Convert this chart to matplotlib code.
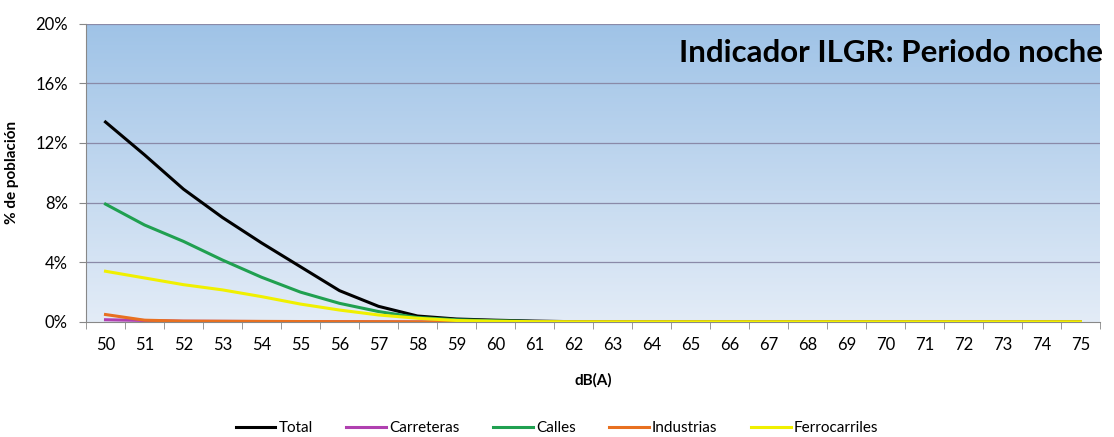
import numpy as np
import matplotlib.pyplot as plt
from matplotlib.colors import LinearSegmentedColormap

plt.rcParams['font.family'] = ['Lato', 'DejaVu Sans']

db = list(range(50, 76))
total = [13.4, 11.2, 8.9, 7.0, 5.3, 3.7, 2.1, 1.05, 0.4, 0.2, 0.12, 0.06, 0.02] + [0.0] * 13
carreteras = [0.15, 0.1, 0.05, 0.04, 0.03, 0.02, 0.02, 0.01] + [0.0] * 18
calles = [7.9, 6.5, 5.4, 4.15, 3.0, 2.0, 1.25, 0.7, 0.3, 0.15, 0.08, 0.03] + [0.0] * 14
industrias = [0.5, 0.12, 0.06, 0.05, 0.04, 0.03, 0.02, 0.02, 0.01] + [0.0] * 17
ferrocarriles = [3.4, 2.95, 2.5, 2.15, 1.7, 1.2, 0.8, 0.47, 0.25, 0.1, 0.05, 0.02] + [0.01] * 14

series = [("Total", total, "#000000"),
          ("Carreteras", carreteras, "#b040b0"),
          ("Calles", calles, "#20a050"),
          ("Industrias", industrias, "#e87020"),
          ("Ferrocarriles", ferrocarriles, "#f0f000")]

fig = plt.figure(figsize=(11.14, 4.37), dpi=100)
ax = fig.add_axes([0.0772, 0.2632, 0.9102, 0.683])

x = np.arange(len(db))
ax.set_xlim(-0.5, len(db) - 0.5)
ax.set_ylim(0, 20)

# gradient background
grad = np.linspace(0, 1, 256).reshape(-1, 1)
cmap = LinearSegmentedColormap.from_list("bg", ["#e3ecf7", "#9fc3e7"])
ax.imshow(grad, aspect='auto', cmap=cmap, origin='lower',
          extent=[-0.5, len(db) - 0.5, 0, 20], zorder=0)

for yv in [4, 8, 12, 16, 20]:
    ax.axhline(yv, color='#8a8aa8', lw=0.9, zorder=1)

for name, vals, col in series:
    ax.plot(x, vals, color=col, lw=2.2, label=name, zorder=3)

ax.set_yticks([0, 4, 8, 12, 16, 20])
ax.set_yticklabels([f"{v}%" for v in [0, 4, 8, 12, 16, 20]], fontsize=12)
ax.set_xticks(x)
ax.set_xticklabels([str(d) for d in db], fontsize=12)
ax.set_xticks(np.arange(-0.5, len(db)), minor=True)
ax.tick_params(axis='x', which='major', length=0, pad=11)
ax.tick_params(axis='x', which='minor', length=5, color='#888888', direction='out')
ax.tick_params(axis='y', length=5, color='#888888', direction='out', pad=8)

for s in ['top', 'right']:
    ax.spines[s].set_visible(False)
for s in ['left', 'bottom']:
    ax.spines[s].set_color('#888888')

ax.set_xlabel("dB(A)", fontsize=11, fontweight='bold', labelpad=14)
ax.set_ylabel("% de población", fontsize=11, fontweight='bold', labelpad=12)

fig.text(0.99, 0.878, "Indicador ILGR: Periodo noche", ha='right', va='center',
         fontsize=22.5, fontweight='bold')

fig.legend(loc='center', bbox_to_anchor=(0.5, 0.02), ncol=5, frameon=False,
           fontsize=11, handlelength=2.6, handletextpad=0.2, columnspacing=2.2)

fig.savefig("out.png", dpi=100)
